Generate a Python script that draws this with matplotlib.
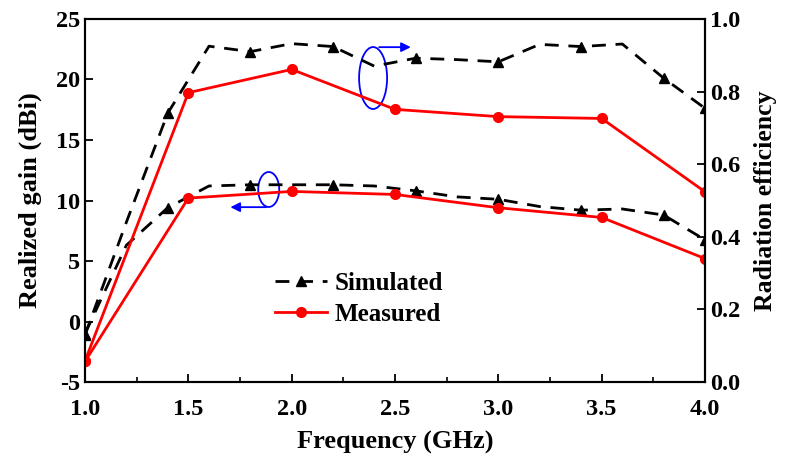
import matplotlib
matplotlib.use('Agg')
import matplotlib.pyplot as plt
from matplotlib.patches import Ellipse
from matplotlib.lines import Line2D
from matplotlib.ticker import MultipleLocator

plt.rcParams['font.family'] = 'Liberation Serif'
plt.rcParams['font.weight'] = 'bold'
plt.rcParams['axes.unicode_minus'] = False

# simulated curves (0.2 GHz step)
freq_sim = [1.0, 1.2, 1.4, 1.6, 1.8, 2.0, 2.2, 2.4, 2.6, 2.8, 3.0, 3.2, 3.4, 3.6, 3.8, 4.0]
gain_sim = [-1.0, 6.3, 9.4, 11.2, 11.3, 11.3, 11.3, 11.2, 10.8, 10.3, 10.1, 9.5, 9.2, 9.3, 8.8, 6.75]
eff_sim = [0.13, 0.44, 0.74, 0.925, 0.91, 0.932, 0.924, 0.87, 0.892, 0.888, 0.882,
           0.93, 0.924, 0.931, 0.837, 0.754]

# measured curves (0.5 GHz step)
freq_meas = [1.0, 1.5, 2.0, 2.5, 3.0, 3.5, 4.0]
gain_meas = [-3.3, 10.2, 10.75, 10.5, 9.4, 8.6, 5.2]
eff_meas = [0.058, 0.797, 0.861, 0.751, 0.731, 0.726, 0.524]

sim_marks = [0, 2, 4, 6, 8, 10, 12, 14, 15]

fig, ax = plt.subplots(figsize=(7.9, 4.74), dpi=100)
fig.subplots_adjust(left=0.1076, right=0.8924, bottom=0.194, top=0.96)
ax2 = ax.twinx()

sim_style = dict(color='black', linestyle=(0, (5, 3.5)), linewidth=2, marker='^', markersize=7)
meas_style = dict(color='red', linestyle='-', linewidth=2, marker='o', markersize=7)

ax.plot(freq_sim, gain_sim, markevery=sim_marks, **sim_style)
ax.plot(freq_meas, gain_meas, **meas_style)
ax2.plot(freq_sim, eff_sim, markevery=sim_marks, **sim_style)
ax2.plot(freq_meas, eff_meas, **meas_style)

ax.set_xlim(1.0, 4.0)
ax.set_ylim(-5, 25)
ax2.set_ylim(0.0, 1.0)
ax.xaxis.set_major_locator(MultipleLocator(0.5))
ax.xaxis.set_minor_locator(MultipleLocator(0.25))
ax.yaxis.set_major_locator(MultipleLocator(5))
ax2.yaxis.set_major_locator(MultipleLocator(0.2))

ax.set_xticklabels([f'{v:.1f}' for v in ax.get_xticks()])
ax2.set_yticklabels([f'{v:.1f}' for v in ax2.get_yticks()])

for a in (ax, ax2):
    a.tick_params(which='major', direction='in', length=6, width=1.3, labelsize=17.5)
    a.tick_params(which='minor', direction='in', length=3.5, width=1.2)
    for s in a.spines.values():
        s.set_linewidth(1.5)
ax.tick_params(axis='x', pad=12)

ax.set_xlabel('Frequency (GHz)', fontsize=19, fontweight='bold', labelpad=8)
ax.set_ylabel('Realized gain (dBi)', fontsize=19, fontweight='bold', labelpad=10)
ax2.set_ylabel('Radiation efficiency', fontsize=18.5, fontweight='bold', labelpad=10)

# blue ellipses and arrows showing which axis each pair belongs to
ax2.set_zorder(ax.get_zorder() + 1)
ax2.patch.set_visible(False)
ax.add_patch(Ellipse((2.394, 20.12), 0.1355, 5.12, fill=False, edgecolor='blue', linewidth=1.3))
ax.annotate('', xy=(2.59, 22.67), xytext=(2.41, 22.67),
            arrowprops=dict(arrowstyle='-|>', color='blue', lw=1.3, mutation_scale=14))
ax.add_patch(Ellipse((1.889, 10.91), 0.1016, 2.89, fill=False, edgecolor='blue', linewidth=1.3))
ax.annotate('', xy=(1.69, 9.45), xytext=(1.89, 9.45),
            arrowprops=dict(arrowstyle='-|>', color='blue', lw=1.3, mutation_scale=14))

h_sim = Line2D([], [], **sim_style)
h_meas = Line2D([], [], **meas_style)
ax2.legend([h_sim, h_meas], ['Simulated', 'Measured'], loc='upper left',
           bbox_to_anchor=(0.27, 0.365), frameon=False, fontsize=18, numpoints=1,
           handlelength=2.1, handletextpad=0.3, labelspacing=0.3)

plt.savefig('out.png', dpi=100)
